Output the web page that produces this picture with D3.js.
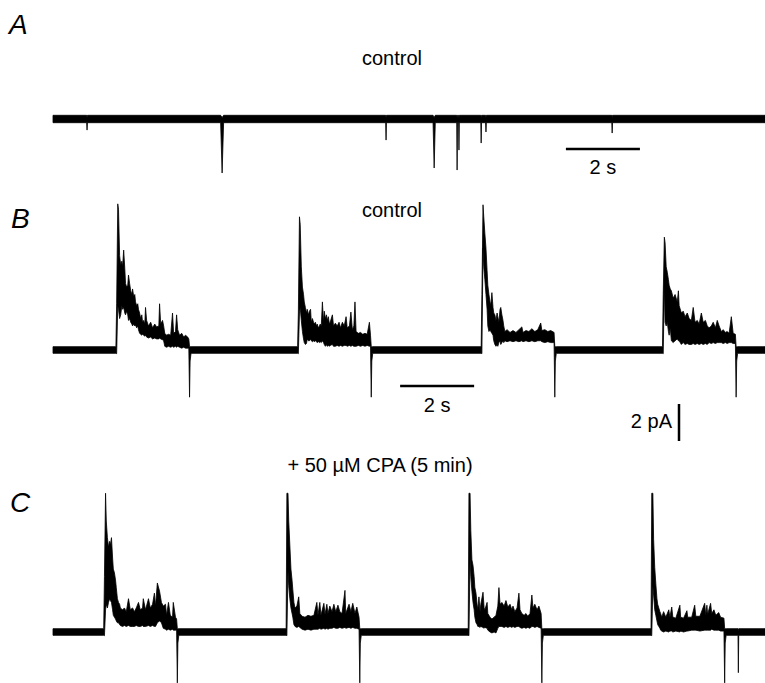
<!DOCTYPE html>
<html>
<head>
<meta charset="utf-8">
<script src="https://cdn.jsdelivr.net/npm/d3@7"></script>
<style>
body { margin: 0; background: #fff; }
svg text { font-family: "Liberation Sans", Arial, Helvetica, sans-serif; fill: #000; }
</style>
</head>
<body>
<svg id="fig" width="765" height="683"></svg>
<script>
// sweep length (s) and recording noise half-width (pA)
const sweepLen = 19.24;
const noiseA = 0.2;
const noiseBC = 0.18;
const pulseDur = 1.97;

// A: spontaneous inward events [t (s), peak (pA), half width (s)]
const eventsA = [
    [0.92, -0.6, 0.01], [4.57, -2.92, 0.04], [9.00, -1.14, 0.01], [10.30, -2.65, 0.03],
    [10.92, -2.76, 0.01], [10.97, -1.68, 0.01], [11.57, -1.3, 0.01], [11.70, -0.7, 0.01],
    [15.11, -0.76, 0.01]
];

// B, C: step onsets (s) and the off transient (pA)
const onsetsB = [1.72, 6.63, 11.59, 16.49];
const onsetsC = [1.39, 6.32, 11.24, 16.18];
const offPeakB = -2.55;
const offPeakC = -2.75;
const eventsC = [[18.52, -2.2, 0.01]];

// response envelopes [t from onset (s), lower (pA), upper (pA)]
const respB1 = [
    [0, -0.2, 2.5], [.03, 2.4, 7.9], [.05, 2.2, 7.6], [.08, 1.7, 5.1], [.11, 1.9, 4.6], [.14, 2.4, 4.8],
    [.16, 2.2, 4.5], [.19, 2.3, 5.4], [.22, 2.0, 4.4], [.24, 1.9, 3.6], [.27, 2.1, 3.4], [.30, 1.9, 3.5],
    [.32, 1.6, 4.05], [.35, 1.7, 3.6], [.38, 1.5, 3.2], [.41, 1.4, 3.0], [.43, 1.3, 3.3], [.46, 1.4, 2.9],
    [.49, 1.3, 3.0], [.51, 1.35, 2.6], [.54, 1.2, 2.4], [.57, 1.3, 2.5], [.59, 1.1, 2.2], [.62, 0.9, 2.0],
    [.65, 0.85, 1.7], [.68, 0.8, 1.9], [.70, 0.85, 1.5], [.73, 0.8, 1.6], [.76, 0.75, 1.4], [.78, 0.8, 2.3],
    [.81, 0.7, 1.6], [.86, 0.65, 1.3], [.92, 0.7, 1.5], [.97, 0.6, 1.2], [1.03, 0.65, 1.4], [1.08, 0.6, 1.25],
    [1.14, 0.6, 1.3], [1.16, 0.65, 2.5], [1.19, 0.6, 1.4], [1.24, 0.55, 1.6], [1.27, 0.5, 1.3], [1.30, 0.2, 0.9],
    [1.35, 0.15, 0.8], [1.40, 0.2, 0.85], [1.46, 0.15, 0.8], [1.51, 0.2, 2.0], [1.54, 0.15, 0.9], [1.59, 0.2, 1.0],
    [1.62, 0.15, 1.9], [1.65, 0.2, 1.1], [1.70, 0.15, 0.8], [1.76, 0.1, 0.9], [1.81, 0.15, 0.7], [1.86, 0.1, 0.8],
    [1.92, 0.1, 0.7], [1.95, 0.1, 0.6]
];
const respB2 = [
    [0, -0.2, 2.0], [.03, 2.0, 7.2], [.05, 2.3, 6.8], [.08, 1.6, 4.5], [.11, 1.0, 3.4], [.14, 0.6, 3.0],
    [.16, 0.4, 2.6], [.19, 0.3, 2.3], [.22, 0.35, 2.0], [.24, 0.6, 2.2], [.27, 0.5, 1.9], [.30, 0.5, 2.1],
    [.33, 0.6, 2.2], [.35, 0.5, 1.5], [.38, 0.45, 1.7], [.41, 0.5, 1.5], [.43, 0.45, 1.4], [.46, 0.5, 1.5],
    [.49, 0.45, 1.3], [.51, 0.4, 1.4], [.54, 0.45, 1.2], [.57, 0.4, 1.3], [.59, 0.45, 1.4], [.62, 0.4, 1.3],
    [.65, 0.5, 2.6], [.68, 0.4, 1.5], [.70, 0.3, 2.1], [.73, 0.2, 1.7], [.76, 0.3, 1.9], [.78, 0.2, 1.6],
    [.81, 0.25, 1.8], [.84, 0.2, 1.4], [.86, 0.25, 1.5], [.92, 0.3, 1.9], [.95, 0.2, 1.3], [1.00, 0.2, 1.45],
    [1.05, 0.25, 1.3], [1.10, 0.2, 1.5], [1.14, 0.25, 1.2], [1.19, 0.2, 1.5], [1.24, 0.25, 1.3], [1.29, 0.25, 1.8],
    [1.32, 0.2, 1.2], [1.38, 0.25, 1.3], [1.42, 0.2, 2.05], [1.46, 0.25, 1.1], [1.50, 0.2, 1.3], [1.53, 0.2, 2.6],
    [1.56, 0.2, 1.0], [1.62, 0.25, 0.9], [1.68, 0.2, 0.95], [1.74, 0.25, 0.85], [1.80, 0.2, 0.9], [1.86, 0.25, 0.85],
    [1.92, 0.2, 1.5], [1.95, 0.2, 0.8]
];
const respB3 = [
    [0, -0.2, 3.0], [.03, 5.5, 7.85], [.05, 4.5, 7.2], [.08, 3.8, 6.3], [.11, 3.0, 5.5], [.14, 2.2, 4.3],
    [.16, 1.3, 3.5], [.19, 1.0, 3.0], [.22, 1.1, 2.6], [.24, 1.0, 2.4], [.27, 0.9, 3.1], [.30, 0.8, 2.3],
    [.32, 0.5, 2.0], [.35, 0.3, 1.9], [.38, 0.2, 1.6], [.41, 0.3, 2.0], [.43, 0.2, 1.8], [.46, 0.4, 1.5],
    [.49, 0.5, 2.2], [.51, 0.3, 2.3], [.54, 0.4, 1.9], [.57, 0.5, 1.6], [.59, 0.4, 1.3], [.62, 0.5, 1.0],
    [.68, 0.45, 1.1], [.76, 0.5, 0.95], [.84, 0.45, 1.05], [.92, 0.5, 0.95], [1.00, 0.45, 1.1], [1.08, 0.5, 1.25],
    [1.11, 0.45, 0.95], [1.19, 0.5, 1.05], [1.27, 0.45, 1.0], [1.35, 0.5, 1.15], [1.43, 0.45, 1.0], [1.51, 0.5, 1.1],
    [1.59, 0.5, 1.46], [1.62, 0.45, 1.05], [1.70, 0.4, 1.1], [1.78, 0.45, 1.0], [1.86, 0.4, 1.05], [1.95, 0.4, 0.95]
];
const respB4 = [
    [0, -0.2, 3.0], [.03, 3.5, 6.1], [.05, 1.5, 5.8], [.08, 1.3, 4.5], [.11, 1.5, 4.2], [.14, 1.0, 3.8],
    [.16, 0.8, 3.5], [.19, 1.2, 3.3], [.22, 0.5, 3.2], [.27, 0.4, 2.8], [.32, 0.5, 3.0], [.38, 0.6, 2.6],
    [.41, 0.5, 3.2], [.43, 0.5, 2.4], [.49, 0.3, 2.0], [.54, 0.4, 2.1], [.59, 0.3, 1.8], [.65, 0.35, 2.0],
    [.70, 0.3, 1.7], [.76, 0.3, 1.6], [.81, 0.35, 2.3], [.86, 0.3, 1.5], [.92, 0.35, 1.6], [.97, 0.3, 1.4],
    [1.03, 0.35, 2.0], [1.08, 0.3, 1.5], [1.14, 0.35, 1.6], [1.19, 0.3, 1.3], [1.24, 0.4, 1.2], [1.30, 0.35, 1.3],
    [1.35, 0.4, 1.5], [1.41, 0.35, 1.2], [1.46, 0.4, 1.6], [1.51, 0.4, 1.3], [1.57, 0.4, 1.0], [1.62, 0.35, 1.1],
    [1.68, 0.4, 0.95], [1.73, 0.35, 1.0], [1.78, 0.4, 0.9], [1.84, 0.4, 1.8], [1.89, 0.35, 0.9], [1.95, 0.35, 0.85]
];
const respC1 = [
    [0, -0.2, 3.0], [.03, 1.2, 7.5], [.05, 1.5, 6.0], [.08, 1.3, 5.1], [.11, 1.6, 4.6], [.14, 1.8, 4.9],
    [.16, 1.7, 4.7], [.19, 1.6, 5.1], [.22, 1.2, 4.0], [.24, 0.9, 3.4], [.27, 0.8, 3.2], [.30, 0.7, 2.8],
    [.32, 0.6, 2.4], [.35, 0.5, 1.8], [.38, 0.5, 1.6], [.41, 0.4, 1.5], [.43, 0.35, 1.3], [.49, 0.3, 1.2],
    [.54, 0.35, 1.3], [.59, 0.3, 1.1], [.65, 0.35, 1.8], [.70, 0.3, 1.2], [.76, 0.3, 1.3], [.81, 0.3, 1.1],
    [.86, 0.35, 1.3], [.92, 0.3, 1.6], [.97, 0.3, 1.2], [1.03, 0.35, 1.3], [1.05, 0.3, 1.8], [1.11, 0.3, 1.2],
    [1.19, 0.35, 1.8], [1.24, 0.3, 1.3], [1.30, 0.35, 1.5], [1.35, 0.3, 2.1], [1.38, 0.3, 1.4], [1.43, 0.5, 2.65],
    [1.49, 0.6, 2.2], [1.54, 0.5, 1.6], [1.59, 0.2, 1.4], [1.65, 0.15, 1.5], [1.68, 0.1, 0.9], [1.73, 0.15, 1.6],
    [1.78, 0.1, 0.9], [1.84, 0.15, 0.8], [1.86, 0.1, 1.6], [1.92, 0.1, 0.8], [1.95, 0.1, 0.7]
];
const respC2 = [
    [0, -0.2, 7.5], [.03, 3.3, 7.5], [.05, 2.5, 6.0], [.08, 1.8, 4.7], [.11, 1.3, 3.4], [.14, 1.0, 2.8],
    [.16, 0.8, 2.3], [.19, 0.4, 1.6], [.22, 0.3, 1.3], [.27, 0.25, 1.4], [.32, 0.3, 1.9], [.35, 0.25, 1.0],
    [.41, 0.15, 0.85], [.49, 0.1, 0.8], [.57, 0.15, 0.9], [.65, 0.1, 0.85], [.73, 0.15, 0.9], [.81, 0.15, 1.6],
    [.84, 0.15, 0.9], [.89, 0.2, 1.6], [.92, 0.15, 0.9], [1.00, 0.2, 1.55], [1.03, 0.15, 0.95], [1.08, 0.2, 1.5],
    [1.11, 0.15, 1.0], [1.16, 0.2, 1.4], [1.22, 0.2, 1.1], [1.27, 0.25, 1.5], [1.32, 0.2, 1.1], [1.38, 0.2, 1.45],
    [1.43, 0.25, 1.1], [1.49, 0.2, 1.0], [1.57, 0.25, 2.25], [1.59, 0.2, 1.0], [1.68, 0.25, 1.5], [1.73, 0.2, 1.1],
    [1.78, 0.25, 1.55], [1.84, 0.2, 1.0], [1.89, 0.2, 1.35], [1.95, 0.15, 0.8]
];
const respC3 = [
    [0, -0.2, 7.5], [.03, 4.0, 7.5], [.05, 3.0, 5.5], [.08, 2.2, 3.9], [.11, 1.6, 3.6], [.14, 1.2, 3.0],
    [.16, 0.8, 2.4], [.19, 0.5, 2.1], [.22, 0.4, 1.5], [.24, 0.3, 1.2], [.27, 0.3, 1.9], [.30, 0.25, 1.1],
    [.32, 0.3, 1.5], [.38, 0.25, 2.15], [.41, 0.2, 1.3], [.43, 0.25, 1.2], [.49, 0.2, 1.6], [.51, 0.1, 1.0],
    [.57, 0.0, 0.8], [.62, -0.05, 0.7], [.68, 0.0, 0.8], [.73, -0.05, 0.9], [.78, 0.2, 1.4], [.81, 0.3, 2.4],
    [.84, 0.3, 1.5], [.89, 0.3, 1.6], [.95, 0.25, 1.4], [1.00, 0.3, 1.7], [1.05, 0.25, 1.35], [1.11, 0.3, 1.5],
    [1.16, 0.25, 1.2], [1.19, 0.3, 1.4], [1.24, 0.25, 1.1], [1.30, 0.3, 1.3], [1.35, 0.3, 2.1], [1.38, 0.25, 1.2],
    [1.43, 0.2, 1.0], [1.49, 0.25, 0.9], [1.54, 0.2, 1.0], [1.59, 0.25, 0.85], [1.65, 0.2, 1.0], [1.70, 0.3, 2.0],
    [1.73, 0.3, 1.3], [1.78, 0.25, 1.5], [1.84, 0.3, 1.2], [1.89, 0.25, 1.4], [1.95, 0.2, 1.0]
];
const respC4 = [
    [0, -0.2, 7.5], [.03, 2.5, 7.5], [.05, 2.0, 5.0], [.08, 1.2, 3.5], [.11, 0.9, 2.6], [.14, 0.6, 1.8],
    [.16, 0.4, 1.5], [.19, 0.3, 1.3], [.22, 0.2, 1.1], [.24, 0.1, 1.0], [.27, 0.05, 0.8], [.32, 0.0, 1.1],
    [.38, 0.05, 0.8], [.46, 0.0, 1.2], [.49, 0.05, 0.8], [.54, 0.05, 1.35], [.57, 0.0, 0.8], [.65, 0.05, 0.75],
    [.76, 0.0, 1.45], [.78, 0.05, 0.8], [.86, 0.0, 0.75], [.95, 0.05, 1.15], [.97, 0.05, 0.8], [1.08, 0.1, 0.8],
    [1.16, 0.1, 1.45], [1.19, 0.1, 0.85], [1.30, 0.05, 0.85], [1.43, 0.1, 1.55], [1.46, 0.1, 0.9], [1.49, 0.1, 1.45],
    [1.51, 0.1, 0.95], [1.59, 0.1, 1.55], [1.62, 0.15, 1.0], [1.68, 0.1, 1.2], [1.73, 0.1, 0.9], [1.81, 0.1, 1.05],
    [1.86, 0.05, 0.8], [1.95, 0.05, 0.75]
];

// labels
const titleA = 'control';
const titleB = 'control';
const titleC = '+ 50 \u00b5M CPA (5 min)';
const timeBar = 2;     // s
const currentBar = 2;  // pA

const svg = d3.select('#fig');
const pxPerPA = 18.5;

const x = d3.scaleLinear().domain([0, sweepLen]).range([53, 765]);

function yFor(base) {
    return d3.scaleLinear().domain([0, 1]).range([base, base - pxPerPA]);
}

// stitch baseline, responses and events into one envelope
function buildSweep(half, onsets, responses, offPeak, events) {
    let pts = [[0, -half, half], [sweepLen, -half, half]];
    onsets.forEach((t0, i) => {
        pts.push([t0 - 0.02, -half, half]);
        responses[i].forEach(p => pts.push([t0 + p[0], p[1], p[2]]));
        const t1 = t0 + pulseDur;
        pts.push([t1, offPeak, half]);
        pts.push([t1 + 0.015, -0.6, half]);
        pts.push([t1 + 0.04, -half, half]);
    });
    events.forEach(e => {
        pts.push([e[0] - e[2], -half, half]);
        pts.push([e[0], e[1], half * 0.4]);
        pts.push([e[0] + e[2], -half, half]);
    });
    return pts.sort((a, b) => a[0] - b[0]);
}

const panels = [
    {label: 'A', ly: 34, lx: 9, base: 119, title: titleA, ty: 65, tx: 392,
        pts: buildSweep(noiseA, [], [], 0, eventsA)},
    {label: 'B', ly: 228, lx: 11, base: 350, title: titleB, ty: 217, tx: 392,
        pts: buildSweep(noiseBC, onsetsB, [respB1, respB2, respB3, respB4], offPeakB, [])},
    {label: 'C', ly: 512, lx: 10, base: 632, title: titleC, ty: 472, tx: 380,
        pts: buildSweep(noiseBC, onsetsC, [respC1, respC2, respC3, respC4], offPeakC, eventsC)}
];

panels.forEach(p => {
    const y = yFor(p.base);
    const area = d3.area()
        .x(d => x(d[0]))
        .y0(d => y(d[1]))
        .y1(d => y(d[2]));

    svg.append('path')
        .attr('d', area(p.pts))
        .attr('fill', '#000')
        .attr('stroke', '#000')
        .attr('stroke-width', 0.8)
        .attr('stroke-linejoin', 'round');

    svg.append('text')
        .attr('x', p.lx)
        .attr('y', p.ly)
        .style('font-size', '28px')
        .style('font-style', 'italic')
        .text(p.label);

    svg.append('text')
        .attr('x', p.tx)
        .attr('y', p.ty)
        .attr('text-anchor', 'middle')
        .style('font-size', '20px')
        .text(p.title);
});

// time scale bars
function timeScaleBar(t0, by, ty) {
    svg.append('line')
        .attr('x1', x(t0)).attr('x2', x(t0 + timeBar))
        .attr('y1', by).attr('y2', by)
        .attr('stroke', '#000').attr('stroke-width', 2.5);
    svg.append('text')
        .attr('x', (x(t0) + x(t0 + timeBar)) / 2)
        .attr('y', ty)
        .attr('text-anchor', 'middle')
        .style('font-size', '20px')
        .text(timeBar + ' s');
}
timeScaleBar(13.86, 149, 174);
timeScaleBar(9.38, 386, 412);

// current scale bar
const yB = yFor(350);
const barLen = yB(0) - yB(currentBar);
svg.append('line')
    .attr('x1', 679).attr('x2', 679)
    .attr('y1', 404).attr('y2', 404 + barLen)
    .attr('stroke', '#000').attr('stroke-width', 2.5);
svg.append('text')
    .attr('x', 672)
    .attr('y', 428)
    .attr('text-anchor', 'end')
    .style('font-size', '20px')
    .text(currentBar + ' pA');
</script>
</body>
</html>
